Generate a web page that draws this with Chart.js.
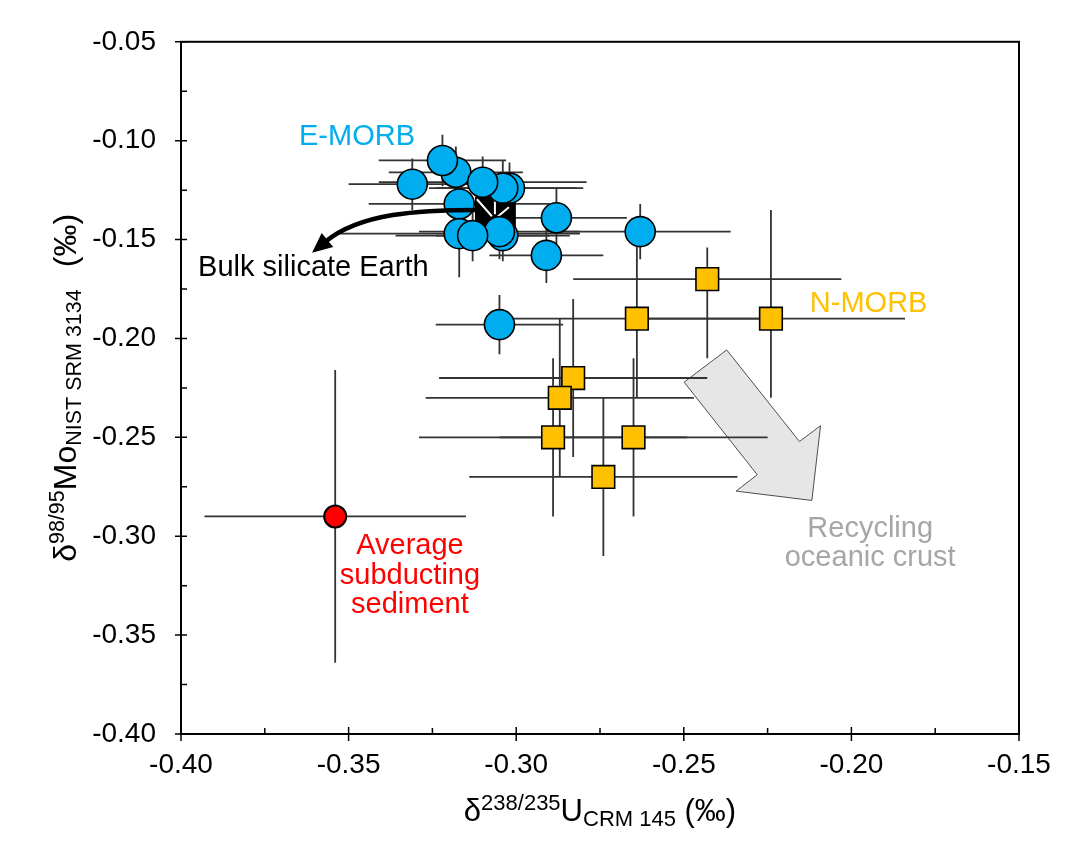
<!DOCTYPE html>
<html>
<head>
<meta charset="utf-8">
<script src="https://cdn.jsdelivr.net/npm/chart.js@4.4.1/dist/chart.umd.min.js"></script>
<style>
  html, body { margin: 0; padding: 0; background: #fff; }
  canvas { display: block; }
</style>
</head>
<body>
<canvas id="c" width="1087" height="864"></canvas>
<script>
// Axis ticks (per mil)
const uTicks  = [-0.40, -0.35, -0.30, -0.25, -0.20, -0.15];
const moTicks = [-0.40, -0.35, -0.30, -0.25, -0.20, -0.15, -0.10, -0.05];

// E-MORB: d238/235U, d98/95Mo and uncertainties
const eMorbU     = [-0.318, -0.322, -0.331, -0.302, -0.304, -0.310, -0.317, -0.304, -0.305, -0.317, -0.313, -0.288, -0.291, -0.263, -0.305];
const eMorbMo    = [-0.116, -0.110, -0.122, -0.124, -0.124, -0.121, -0.132, -0.148, -0.146, -0.147, -0.148, -0.139, -0.158, -0.146, -0.193];
const eMorbUErr  = [0.020, 0.019, 0.019, 0.022, 0.022, 0.031, 0.027, 0.020, 0.024, 0.036, 0.023, 0.021, 0.017, 0.027, 0.019];
const eMorbMoErr = [0.013, 0.013, 0.013, 0.013, 0.014, 0.013, 0.015, 0.013, 0.014, 0.022, 0.013, 0.015, 0.014, 0.014, 0.015];

// N-MORB (Mo uncertainties given as upper / lower)
const nMorbU         = [-0.243, -0.264, -0.224, -0.283, -0.287, -0.289, -0.265, -0.274];
const nMorbMo        = [-0.170, -0.190, -0.190, -0.220, -0.230, -0.250, -0.250, -0.270];
const nMorbUErr      = [0.040, 0.040, 0.040, 0.040, 0.040, 0.040, 0.040, 0.040];
const nMorbMoErrUp   = [0.016, 0.040, 0.055, 0.040, 0.040, 0.040, 0.040, 0.040];
const nMorbMoErrDown = [0.040, 0.040, 0.040, 0.040, 0.040, 0.040, 0.040, 0.040];

// Average subducting sediment
const sedU     = [-0.354];
const sedMo    = [-0.290];
const sedUErr  = [0.039];
const sedMoErr = [0.074];

// Bulk silicate Earth field (U range, Mo range)
const bseURange  = [-0.3123, -0.3001];
const bseMoRange = [-0.1284, -0.1465];

// Curved arrow towards BSE: start, two control points, tip
const bseArrowU  = [-0.3117, -0.3287, -0.3466, -0.3609];
const bseArrowMo = [-0.1350, -0.1350, -0.1365, -0.1567];

// Block arrow for recycled oceanic crust (outline vertices)
const recycleU  = [-0.2499, -0.2372, -0.2155, -0.2092, -0.2118, -0.2344, -0.2281];
const recycleMo = [-0.2221, -0.2058, -0.2521, -0.2441, -0.2819, -0.2772, -0.2689];

const FONT = '"Liberation Sans", Arial, Helvetica, sans-serif';

const toPoints = (xs, ys) => xs.map((v, i) => ({ x: v, y: ys[i] }));

const errorSets = [
  { u: eMorbU, mo: eMorbMo, ue: eMorbUErr, up: eMorbMoErr, down: eMorbMoErr },
  { u: nMorbU, mo: nMorbMo, ue: nMorbUErr, up: nMorbMoErrUp, down: nMorbMoErrDown },
  { u: sedU,   mo: sedMo,   ue: sedUErr,   up: sedMoErr, down: sedMoErr }
];

// draws a run of text pieces (with super/subscripts) centred on cx
function drawRich(ctx, parts, cx, cy) {
  let total = 0;
  parts.forEach(p => {
    ctx.font = p.size + 'px ' + FONT;
    p.w = (p.t ? ctx.measureText(p.t).width : 0) + (p.gap || 0);
    total += p.w;
  });
  let x = cx - total / 2;
  ctx.textAlign = 'left';
  ctx.textBaseline = 'alphabetic';
  parts.forEach(p => {
    ctx.font = p.size + 'px ' + FONT;
    if (p.t) ctx.fillText(p.t, x, cy + (p.dy || 0));
    x += p.w;
  });
}

const decorations = {
  id: 'decorations',
  beforeDatasetsDraw(chart) {
    const { ctx, scales: { x, y } } = chart;
    ctx.save();

    // recycling block arrow
    ctx.beginPath();
    recycleU.forEach((u, i) => {
      const px = x.getPixelForValue(u), py = y.getPixelForValue(recycleMo[i]);
      if (i === 0) ctx.moveTo(px, py); else ctx.lineTo(px, py);
    });
    ctx.closePath();
    ctx.fillStyle = '#E6E6E6';
    ctx.fill();
    ctx.strokeStyle = '#4D4D4D';
    ctx.lineWidth = 1;
    ctx.stroke();

    // error bars
    ctx.strokeStyle = '#333333';
    ctx.lineWidth = 1.8;
    ctx.lineCap = 'butt';
    errorSets.forEach(s => {
      s.u.forEach((u, i) => {
        const mo = s.mo[i];
        ctx.beginPath();
        ctx.moveTo(x.getPixelForValue(u - s.ue[i]), y.getPixelForValue(mo));
        ctx.lineTo(x.getPixelForValue(u + s.ue[i]), y.getPixelForValue(mo));
        ctx.moveTo(x.getPixelForValue(u), y.getPixelForValue(mo + s.up[i]));
        ctx.lineTo(x.getPixelForValue(u), y.getPixelForValue(mo - s.down[i]));
        ctx.stroke();
      });
    });

    // BSE box with white arrow glyph
    const bx0 = x.getPixelForValue(bseURange[0]), bx1 = x.getPixelForValue(bseURange[1]);
    const by0 = y.getPixelForValue(bseMoRange[0]), by1 = y.getPixelForValue(bseMoRange[1]);
    ctx.fillStyle = '#000';
    ctx.fillRect(bx0, by0, bx1 - bx0, by1 - by0);
    const cx = (bx0 + bx1) / 2, cy = (by0 + by1) / 2;
    ctx.strokeStyle = '#fff';
    ctx.lineWidth = 2;
    ctx.beginPath();
    ctx.moveTo(cx - 18.5, cy - 15.5); ctx.lineTo(cx - 3.5, cy + 1.5);
    ctx.moveTo(cx + 13.5, cy - 7.5);  ctx.lineTo(cx + 1.5, cy + 2.5);
    ctx.moveTo(cx - 0.5, cy - 15.5);  ctx.lineTo(cx - 0.5, cy - 0.5);
    ctx.stroke();
    ctx.restore();
  },
  afterDatasetsDraw(chart) {
    const { ctx, scales: { x, y } } = chart;
    ctx.save();

    // curved black arrow to Bulk silicate Earth
    const P = bseArrowU.map((u, i) => [x.getPixelForValue(u), y.getPixelForValue(bseArrowMo[i])]);
    const tip = P[3];
    let dx = tip[0] - P[2][0], dy = tip[1] - P[2][1];
    const len = Math.hypot(dx, dy); dx /= len; dy /= len;
    const headLen = 20, headHalf = 9;
    const base = [tip[0] - dx * headLen, tip[1] - dy * headLen];
    ctx.strokeStyle = '#000';
    ctx.lineWidth = 4.5;
    ctx.beginPath();
    ctx.moveTo(P[0][0], P[0][1]);
    ctx.bezierCurveTo(P[1][0], P[1][1], P[2][0], P[2][1], base[0] + dx * 3, base[1] + dy * 3);
    ctx.stroke();
    ctx.fillStyle = '#000';
    ctx.beginPath();
    ctx.moveTo(tip[0], tip[1]);
    ctx.lineTo(base[0] - dy * headHalf, base[1] + dx * headHalf);
    ctx.lineTo(base[0] + dy * headHalf, base[1] - dx * headHalf);
    ctx.closePath();
    ctx.fill();

    // annotations
    ctx.textBaseline = 'alphabetic';
    ctx.font = '29px ' + FONT;
    ctx.textAlign = 'left';
    ctx.fillStyle = '#00AEEF';
    ctx.fillText('E-MORB', x.getPixelForValue(-0.3648), y.getPixelForValue(-0.1021));
    ctx.fillStyle = '#000';
    ctx.fillText('Bulk silicate Earth', x.getPixelForValue(-0.3949), y.getPixelForValue(-0.1683));
    ctx.fillStyle = '#FFC000';
    ctx.fillText('N-MORB', x.getPixelForValue(-0.2124), y.getPixelForValue(-0.1864));

    ctx.textAlign = 'center';
    ctx.fillStyle = '#FF0000';
    const sx = x.getPixelForValue(-0.3317), sy = y.getPixelForValue(-0.3091);
    ['Average', 'subducting', 'sediment'].forEach((t, i) => ctx.fillText(t, sx, sy + i * 29.5));
    ctx.fillStyle = '#A6A6A6';
    const rx = x.getPixelForValue(-0.1944), ry = y.getPixelForValue(-0.3005);
    ['Recycling', 'oceanic crust'].forEach((t, i) => ctx.fillText(t, rx, ry + i * 29));
    ctx.restore();
  },
  afterDraw(chart) {
    const { ctx, chartArea: a, scales: { x, y } } = chart;
    ctx.save();
    // frame
    ctx.strokeStyle = '#000';
    ctx.lineWidth = 2;
    ctx.strokeRect(a.left, a.top, a.right - a.left, a.bottom - a.top);
    // major and minor ticks
    ctx.lineWidth = 1.5;
    ctx.beginPath();
    uTicks.forEach((v, i) => {
      const px = x.getPixelForValue(v);
      ctx.moveTo(px, a.bottom + 7); ctx.lineTo(px, a.bottom - 7);
      if (i < uTicks.length - 1) {
        const mx = x.getPixelForValue((v + uTicks[i + 1]) / 2);
        ctx.moveTo(mx, a.bottom); ctx.lineTo(mx, a.bottom - 6);
      }
    });
    moTicks.forEach((v, i) => {
      const py = y.getPixelForValue(v);
      ctx.moveTo(a.left - 6, py); ctx.lineTo(a.left + 6, py);
      if (i < moTicks.length - 1) {
        const my = y.getPixelForValue((v + moTicks[i + 1]) / 2);
        ctx.moveTo(a.left, my); ctx.lineTo(a.left + 6, my);
      }
    });
    ctx.stroke();

    // axis titles
    ctx.fillStyle = '#000';
    drawRich(ctx, [
      { t: 'δ', size: 31 },
      { t: '238/235', size: 22, dy: -11 },
      { t: 'U', size: 31 },
      { t: 'CRM 145', size: 22, dy: 5 },
      { t: ' (‰)', size: 31 }
    ], (a.left + a.right) / 2, 821);

    ctx.translate(76, (a.top + a.bottom) / 2);
    ctx.rotate(-Math.PI / 2);
    drawRich(ctx, [
      { t: 'δ', size: 32 },
      { t: '98/95', size: 21.5, dy: -12 },
      { t: 'Mo', size: 32 },
      { t: 'NIST SRM 3134', size: 21.5, dy: 5, gap: 22 },
      { t: '(‰)', size: 32 }
    ], 0, 0);
    ctx.restore();
  }
};

new Chart(document.getElementById('c'), {
  type: 'scatter',
  data: {
    datasets: [
      {
        label: 'E-MORB',
        data: toPoints(eMorbU, eMorbMo),
        pointStyle: 'circle',
        pointRadius: 15,
        backgroundColor: '#00AEEF',
        borderColor: '#000',
        borderWidth: 1.6
      },
      {
        label: 'N-MORB',
        data: toPoints(nMorbU, nMorbMo),
        pointStyle: 'rect',
        pointRadius: 16,
        backgroundColor: '#FFC000',
        borderColor: '#000',
        borderWidth: 1.6
      },
      {
        label: 'Average subducting sediment',
        data: toPoints(sedU, sedMo),
        pointStyle: 'circle',
        pointRadius: 11,
        backgroundColor: '#FF0000',
        borderColor: '#000',
        borderWidth: 2
      }
    ]
  },
  options: {
    responsive: false,
    animation: false,
    events: [],
    layout: { padding: { top: 41, right: 68, left: 0, bottom: 0 } },
    plugins: { legend: { display: false }, tooltip: { enabled: false } },
    scales: {
      x: {
        type: 'linear',
        min: -0.40,
        max: -0.15,
        afterBuildTicks: s => { s.ticks = uTicks.map(v => ({ value: v })); },
        afterFit: s => { s.height = 130; },
        grid: { display: false, drawTicks: false },
        border: { display: false },
        ticks: {
          padding: 14,
          color: '#000',
          font: { family: FONT, size: 28 },
          maxRotation: 0,
          callback: v => v.toFixed(2)
        }
      },
      y: {
        type: 'linear',
        min: -0.40,
        max: -0.05,
        afterBuildTicks: s => { s.ticks = moTicks.map(v => ({ value: v })); },
        afterFit: s => { s.width = 181; },
        grid: { display: false, drawTicks: false },
        border: { display: false },
        ticks: {
          padding: 25,
          color: '#000',
          font: { family: FONT, size: 28 },
          callback: v => v.toFixed(2)
        }
      }
    }
  },
  plugins: [decorations]
});
</script>
</body>
</html>
